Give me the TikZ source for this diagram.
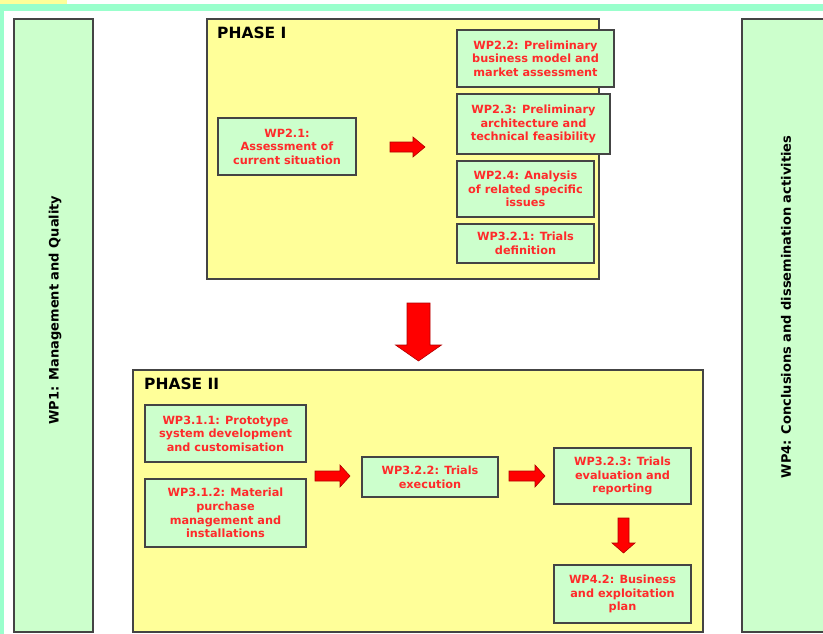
\documentclass[tikz,border=0pt]{standalone}
\usepackage{fontspec}
\setmainfont{DejaVu Sans}
\definecolor{mint}{HTML}{99FFCC}
\definecolor{phasey}{HTML}{FFFF99}
\definecolor{wpgreen}{HTML}{CCFFCC}
\definecolor{wpred}{HTML}{FF2A2A}
\definecolor{edge}{HTML}{444444}
\definecolor{arrowred}{HTML}{FF0000}
\definecolor{arrowedge}{HTML}{B00000}
\tikzset{
  phasebox/.style={draw=edge, line width=1.3pt, fill=phasey},
  wpbox/.style={draw=edge, line width=1.3pt, fill=wpgreen, inner sep=0pt, align=center,
    text=wpred, font=\fontsize{11.3}{13.6}\selectfont\bfseries},
  sidebox/.style={draw=edge, line width=1.3pt, fill=wpgreen},
  sidetext/.style={rotate=90, font=\fontsize{13}{15}\selectfont\bfseries, text=black},
  phaselabel/.style={anchor=north west, inner sep=0pt, font=\fontsize{15.5}{17}\selectfont\bfseries, text=black},
  blockarrow/.style={fill=arrowred, draw=arrowedge, line width=0.6pt, line join=miter},
}
\begin{document}
\begin{tikzpicture}[x=1pt,y=-1pt]
\useasboundingbox (0,0) rectangle (823,634);
% background frame
\fill[white] (0,0) rectangle (823,634);
\fill[mint] (0,4) rectangle (823,11);
\fill[mint] (0,4) rectangle (4,634);
\fill[phasey] (0,0) rectangle (67,4);

% side work packages
\draw[sidebox] (14,19) rectangle (93,632);
\node[sidetext] (wp1) at (55,310) {WP1: Management and Quality};
\draw[sidebox] (742,19) rectangle (826,632);
\node[sidetext] (wp4) at (786,307) {WP4: Conclusions and dissemination activities};

% Phase I
\draw[phasebox] (207,19) rectangle (599,279);
\node[phaselabel] (p1) at (217,27) {PHASE I};
\node[wpbox, minimum width=138pt, minimum height=57pt] (wp21) at (287,146.5)
  {WP2.1:\\Assessment of\\current situation};
\node[wpbox, minimum width=157pt, minimum height=57pt] (wp22) at (535.5,58.5)
  {WP2.2: Preliminary\\business model and\\market assessment};
\node[wpbox, minimum width=153pt, minimum height=60pt] (wp23) at (533.5,124)
  {WP2.3: Preliminary\\architecture and\\technical feasibility};
\node[wpbox, minimum width=137pt, minimum height=56pt] (wp24) at (525.5,189)
  {WP2.4: Analysis\\of related specific\\issues};
\node[wpbox, minimum width=137pt, minimum height=39pt] (wp321) at (525.5,243.5)
  {WP3.2.1: Trials\\definition};

% arrow in phase I
\coordinate (a1) at (390,147);
\draw[blockarrow] (a1) ++(0,-5) -- ++(23,0) -- ++(0,-5) -- ++(12,10) -- ++(-12,10) -- ++(0,-5) -- ++(-23,0) -- cycle;

% big down arrow between phases
\coordinate (a2) at (418.5,303);
\draw[blockarrow] (a2) ++(-11.5,0) -- ++(23,0) -- ++(0,42) -- ++(11.5,0) -- ++(-23,16) -- ++(-23,-16) -- ++(11.5,0) -- cycle;

% Phase II
\draw[phasebox] (133,370) rectangle (703,632);
\node[phaselabel] (p2) at (144,378) {PHASE II};
\node[wpbox, minimum width=161pt, minimum height=57pt] (wp311) at (225.5,433.5)
  {WP3.1.1: Prototype\\system development\\and customisation};
\node[wpbox, minimum width=161pt, minimum height=68pt] (wp312) at (225.5,513)
  {WP3.1.2: Material\\purchase\\management and\\installations};
\node[wpbox, minimum width=136pt, minimum height=40pt] (wp322) at (430,477)
  {WP3.2.2: Trials\\execution};
\node[wpbox, minimum width=137pt, minimum height=56pt] (wp323) at (622.5,476)
  {WP3.2.3: Trials\\evaluation and\\reporting};
\node[wpbox, minimum width=137pt, minimum height=58pt] (wp42) at (622.5,594)
  {WP4.2: Business\\and exploitation\\plan};

% arrows in phase II
\coordinate (a3) at (315,476);
\draw[blockarrow] (a3) ++(0,-5) -- ++(25,0) -- ++(0,-6) -- ++(10,11) -- ++(-10,11) -- ++(0,-6) -- ++(-25,0) -- cycle;
\coordinate (a4) at (509,476);
\draw[blockarrow] (a4) ++(0,-5) -- ++(26,0) -- ++(0,-6) -- ++(10,11) -- ++(-10,11) -- ++(0,-6) -- ++(-26,0) -- cycle;
\coordinate (a5) at (623.5,518);
\draw[blockarrow] (a5) ++(-5.5,0) -- ++(11,0) -- ++(0,25) -- ++(6,0) -- ++(-11.5,10) -- ++(-11.5,-10) -- ++(6,0) -- cycle;
\end{tikzpicture}
\end{document}
